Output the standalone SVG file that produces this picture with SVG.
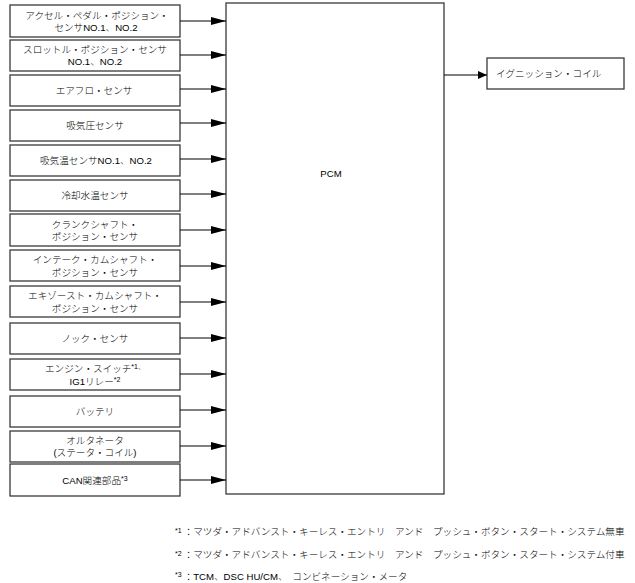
<svg xmlns="http://www.w3.org/2000/svg" width="635" height="583" viewBox="0 0 635 583">
<style>
text{font-family:"Liberation Sans","Noto Sans CJK JP",sans-serif;font-size:9.6px;fill:#000;font-weight:300}
.b{fill:#fff;stroke:#3a3a3a;stroke-width:1.3}
.c{text-anchor:middle}
.l{stroke:#000;stroke-width:1.1;fill:none}
.s{font-size:7px}
</style>
<defs>
<marker id="ah" viewBox="0 0 15 8" refX="15" refY="4" markerWidth="15" markerHeight="8" markerUnits="userSpaceOnUse" orient="auto"><path d="M0,0 L15,4 L0,8 z" fill="#000"/></marker>
<marker id="ah2" viewBox="0 0 9 8" refX="9" refY="4" markerWidth="9" markerHeight="8" markerUnits="userSpaceOnUse" orient="auto"><path d="M0,0 L9,4 L0,8 z" fill="#000"/></marker>
</defs>
<rect width="635" height="583" fill="#fff"/>
<g id="pcm"><rect class="b" x="226" y="3" width="218" height="491"/><text class="c" x="331" y="177">PCM</text></g>
<g id="n1"><rect class="b" x="10" y="5" width="170" height="32"/><text class="c" x="97" y="18.5">アクセル・ペダル・ポジション・</text><text class="c" x="96" y="31">センサNO.1、NO.2</text></g>
<g id="n2"><rect class="b" x="10" y="40" width="170" height="31"/><text class="c" x="95" y="52.5">スロットル・ポジション・センサ</text><text class="c" x="95" y="65">NO.1、NO.2</text></g>
<g id="n3"><rect class="b" x="10" y="75" width="170" height="31"/><text class="c" x="94" y="94">エアフロ・センサ</text></g>
<g id="n4"><rect class="b" x="10" y="110" width="170" height="31"/><text class="c" x="95" y="128.5">吸気圧センサ</text></g>
<g id="n5"><rect class="b" x="10" y="145" width="170" height="31"/><text class="c" x="96" y="164">吸気温センサNO.1、NO.2</text></g>
<g id="n6"><rect class="b" x="10" y="180" width="170" height="31"/><text class="c" x="95" y="198.5">冷却水温センサ</text></g>
<g id="n7"><rect class="b" x="10" y="214" width="170" height="32"/><text class="c" x="95" y="227.5">クランクシャフト・</text><text class="c" x="95" y="240">ポジション・センサ</text></g>
<g id="n8"><rect class="b" x="10" y="250" width="170" height="31"/><text class="c" x="95" y="263">インテーク・カムシャフト・</text><text class="c" x="95" y="275.5">ポジション・センサ</text></g>
<g id="n9"><rect class="b" x="10" y="286" width="170" height="31"/><text class="c" x="95" y="299">エキゾースト・カムシャフト・</text><text class="c" x="95" y="311.5">ポジション・センサ</text></g>
<g id="n10"><rect class="b" x="10" y="323" width="170" height="31"/><text class="c" x="95" y="342">ノック・センサ</text></g>
<g id="n11"><rect class="b" x="10" y="359" width="170" height="31"/><text class="c" x="95" y="372">エンジン・スイッチ<tspan class="s" dy="-3">*1、</tspan></text><text class="c" x="95" y="384.5">IG1リレー<tspan class="s" dy="-3">*2</tspan></text></g>
<g id="n12"><rect class="b" x="10" y="396" width="170" height="31"/><text class="c" x="95" y="414.5">バッテリ</text></g>
<g id="n13"><rect class="b" x="10" y="431" width="170" height="31"/><text class="c" x="95" y="443.5">オルタネータ</text><text class="c" x="95" y="456">(ステータ・コイル)</text></g>
<g id="n14"><rect class="b" x="10" y="464" width="170" height="32"/><text class="c" x="95" y="483.5">CAN関連部品<tspan class="s" dy="-3">*3</tspan></text></g>
<g id="ign"><rect class="b" x="487" y="58" width="137" height="31"/><text x="496" y="77">イグニッション・コイル</text></g>
<g id="connectors">
<line class="l" x1="180" y1="21" x2="226" y2="21" marker-end="url(#ah)"/>
<line class="l" x1="180" y1="55" x2="226" y2="55" marker-end="url(#ah)"/>
<line class="l" x1="180" y1="89" x2="226" y2="89" marker-end="url(#ah)"/>
<line class="l" x1="180" y1="123" x2="226" y2="123" marker-end="url(#ah)"/>
<line class="l" x1="180" y1="159" x2="226" y2="159" marker-end="url(#ah)"/>
<line class="l" x1="180" y1="194" x2="226" y2="194" marker-end="url(#ah)"/>
<line class="l" x1="180" y1="230" x2="226" y2="230" marker-end="url(#ah)"/>
<line class="l" x1="180" y1="266" x2="226" y2="266" marker-end="url(#ah)"/>
<line class="l" x1="180" y1="302" x2="226" y2="302" marker-end="url(#ah)"/>
<line class="l" x1="180" y1="338" x2="226" y2="338" marker-end="url(#ah)"/>
<line class="l" x1="180" y1="374" x2="226" y2="374" marker-end="url(#ah)"/>
<line class="l" x1="180" y1="410" x2="226" y2="410" marker-end="url(#ah)"/>
<line class="l" x1="180" y1="446" x2="226" y2="446" marker-end="url(#ah)"/>
<line class="l" x1="180" y1="480" x2="226" y2="480" marker-end="url(#ah)"/>
<line class="l" x1="444" y1="75" x2="487" y2="75" marker-end="url(#ah2)"/>
</g>
<g id="notes">
<text x="175" y="535"><tspan class="s" dy="-2">*1</tspan><tspan dx="2" dy="2">：マツダ・アドバンスト・キーレス・エントリ　アンド　プッシュ・ボタン・スタート・システム無車</tspan></text>
<text x="175" y="558"><tspan class="s" dy="-2">*2</tspan><tspan dx="2" dy="2">：マツダ・アドバンスト・キーレス・エントリ　アンド　プッシュ・ボタン・スタート・システム付車</tspan></text>
<text x="175" y="580"><tspan class="s" dy="-3">*3</tspan><tspan dx="2" dy="3">：TCM、DSC HU/CM、　コンビネーション・メータ</tspan></text>
</g>
</svg>
